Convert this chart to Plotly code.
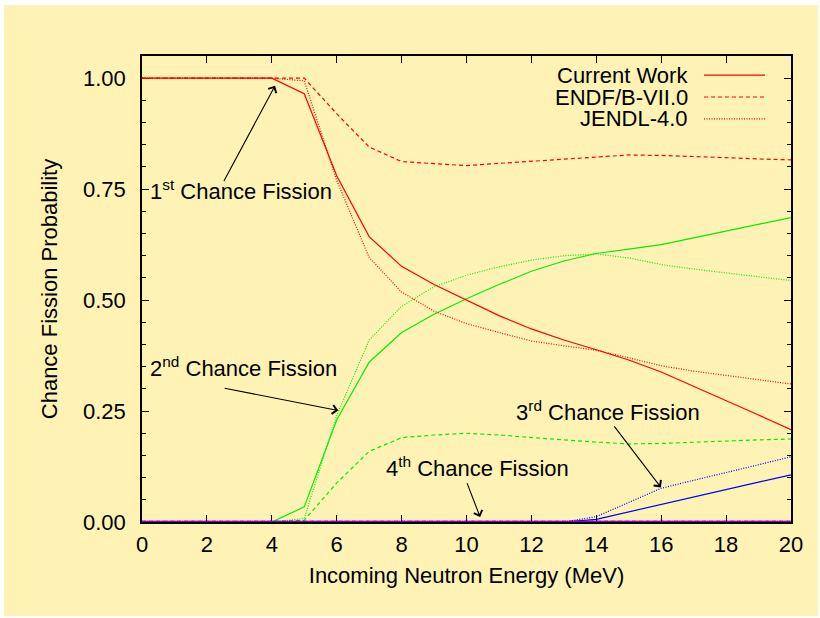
import plotly.graph_objects as go

# Incident neutron energies (MeV)
energy = list(range(0, 21))

# 1st chance fission
first_current = [1.0, 1.0, 1.0, 1.0, 1.0, 0.965, 0.78, 0.643, 0.576, 0.535, 0.50,
                 0.465, 0.435, 0.41, 0.388, 0.365, 0.338, 0.306, 0.273, 0.241, 0.208]
first_endf = [1.0, 1.0, 1.0, 1.0, 1.0, 1.0, 0.92, 0.845, 0.812, 0.808, 0.803,
              0.808, 0.813, 0.818, 0.823, 0.827, 0.826, 0.824, 0.821, 0.818, 0.816]
first_jendl = [1.0, 1.0, 1.0, 1.0, 1.0, 0.994, 0.77, 0.596, 0.518, 0.475, 0.447,
               0.427, 0.408, 0.397, 0.387, 0.37, 0.352, 0.34, 0.33, 0.32, 0.311]

# 2nd chance fission
second_current = [0, 0, 0, 0, 0, 0.034, 0.23, 0.36, 0.427, 0.468, 0.503,
                  0.535, 0.565, 0.588, 0.605, 0.615, 0.625, 0.64, 0.655, 0.67, 0.686]
second_endf = [0, 0, 0, 0, 0, 0.004, 0.088, 0.159, 0.19, 0.196, 0.2,
               0.196, 0.19, 0.185, 0.18, 0.176, 0.177, 0.18, 0.182, 0.185, 0.187]
second_jendl = [0, 0, 0, 0, 0, 0.008, 0.24, 0.41, 0.486, 0.53, 0.556,
                0.575, 0.59, 0.6, 0.604, 0.595, 0.58, 0.57, 0.561, 0.552, 0.544]

# 3rd chance fission
third_current = [0, 0, 0, 0, 0, 0, 0, 0, 0, 0, 0,
                 0, 0, 0, 0.006, 0.023, 0.039, 0.056, 0.073, 0.09, 0.106]
third_endf = [0] * 21
third_jendl = [0, 0, 0, 0, 0, 0, 0, 0, 0, 0, 0,
               0, 0, 0, 0.012, 0.044, 0.076, 0.094, 0.111, 0.129, 0.147]

# 4th chance fission
fourth_current = [0] * 21
fourth_endf = [0] * 21
fourth_jendl = [0] * 21

legend_names = ["Current Work", "ENDF/B-VII.0", "JENDL-4.0"]

RED, GREEN, BLUE, VIOLET = "#FF0000", "#00EE00", "#0000FF", "#8A00D4"
DASH, DOT = "4px,3px", "1px,1.5px"
FONT = "Liberation Sans, Arial, Helvetica, sans-serif"
FS = 22
BG = "#FEF3B5"

series = [
    (third_endf, BLUE, DASH, 1.2), (third_jendl, BLUE, DOT, 1.2), (third_current, BLUE, "solid", 1.2),
    (second_endf, GREEN, DASH, 1.2), (second_jendl, GREEN, DOT, 1.2), (second_current, GREEN, "solid", 1.2),
    (first_endf, RED, DASH, 1.2), (first_jendl, RED, DOT, 1.2), (first_current, RED, "solid", 1.2),
    (fourth_endf, VIOLET, DASH, 2.6), (fourth_jendl, VIOLET, DOT, 2.6), (fourth_current, VIOLET, "solid", 2.6),
]

fig = go.Figure()
for values, color, dash, width in series:
    fig.add_trace(go.Scatter(x=energy, y=values, mode="lines", showlegend=False,
                             line=dict(color=color, width=width, dash=dash)))

# gnuplot-style key: label right-aligned, line sample to its right
key_rows = [0.959, 0.912, 0.865]
for name, yk, dash in zip(legend_names, key_rows, ["solid", DASH, DOT]):
    fig.add_annotation(x=0.843, y=yk, xref="paper", yref="paper", text=name,
                       showarrow=False, xanchor="right", yanchor="middle",
                       height=21, valign="middle", borderpad=0,
                       font=dict(size=FS, color="black", family=FONT))
    fig.add_shape(type="line", xref="paper", yref="paper", x0=0.866, x1=0.960,
                  y0=yk, y1=yk, line=dict(color=RED, width=1.2, dash=dash))

# labels with arrows: (text, text x, text y, arrow tip x, tip y, tail x, tail y)
labels = [
    ("1<sup>st</sup> Chance Fission", 0.2, 0.749, 4.10, 0.983, 2.50, 0.765),
    ("2<sup>nd</sup> Chance Fission", 0.2, 0.349, 6.05, 0.251, 2.50, 0.302),
    ("3<sup>rd</sup> Chance Fission", 11.45, 0.250, 15.99, 0.078, 14.52, 0.219),
    ("4<sup>th</sup> Chance Fission", 7.45, 0.123, 10.42, 0.011, 10.0, 0.091),
]
for text, tx, ty, hx, hy, ax, ay in labels:
    fig.add_annotation(x=tx, y=ty, text=text, showarrow=False, xanchor="left",
                       yanchor="middle", font=dict(size=FS, color="black", family=FONT))
    fig.add_annotation(x=hx, y=hy, ax=ax, ay=ay, axref="x", ayref="y", text="",
                       showarrow=True, arrowhead=4, arrowsize=1.6, arrowwidth=1.1,
                       arrowcolor="black", standoff=0)

# yellow card behind the whole chart
fig.add_shape(type="rect", xref="paper", yref="paper", x0=-0.2126, x1=1.042,
              y0=-0.2018, y1=1.1094, fillcolor=BG, line=dict(width=0), layer="below")

axis_common = dict(showline=True, linecolor="black", linewidth=1.5, mirror="ticks",
                   ticks="inside", tickcolor="black", tickwidth=1.2, ticklen=7,
                   showgrid=False, zeroline=False, layer="below traces",
                   tickfont=dict(size=FS, color="black", family=FONT))

fig.update_xaxes(range=[0, 20], tickvals=list(range(0, 21, 2)), ticklabelstandoff=2,
                 title=dict(text="Incoming Neutron Energy (MeV)", standoff=11,
                            font=dict(size=FS, color="black", family=FONT)),
                 **axis_common)
fig.update_yaxes(range=[0, 1.05], tickvals=[0, 0.25, 0.5, 0.75, 1.0], tickformat=".2f",
                 ticklabelstandoff=10,
                 minor=dict(dtick=0.05, ticks="inside", ticklen=4, tickcolor="black",
                            tickwidth=1.2),
                 title=dict(text="Chance Fission Probability", standoff=19,
                            font=dict(size=FS, color="black", family=FONT)),
                 **axis_common)

fig.update_layout(width=820, height=618, paper_bgcolor="white", plot_bgcolor=BG,
                  margin=dict(l=142, r=29, t=56, b=96, autoexpand=False),
                  showlegend=False)

fig.write_html("out.html")
